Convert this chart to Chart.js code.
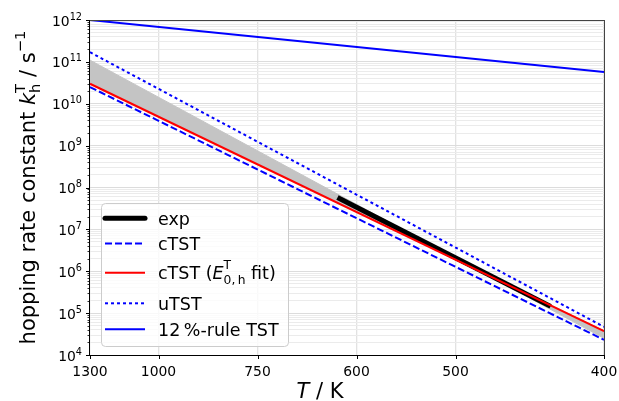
<!DOCTYPE html>
<html><head><meta charset="utf-8">
<script src="https://cdn.jsdelivr.net/npm/chart.js@4.4.0/dist/chart.umd.min.js"></script>
<style>html,body{margin:0;padding:0;background:#fff}canvas{display:block}</style>
</head><body>
<canvas id="c" width="619" height="401"></canvas>
<script>
// ---- data (T in K, rate constants in s^-1) ----
const lineTemps   = [1300, 400];
const rule12TST   = [1.0e12, 5.7e10];
const uTST        = [1.7e11, 4.7e4];
const cTSTfit     = [3.0e10, 3.7e4];
const cTST        = [2.5e10, 2.3e4];
const fanSteep    = [1.1e11, 2.5e4];
const fanShallow  = [3.1e10, 3.8e4];
const expTemps    = [624, 431];
const expRates    = [5.8e7, 1.45e5];
const xTickTemps  = [1300, 1000, 750, 600, 500, 400];
const yDecades    = [4, 5, 6, 7, 8, 9, 10, 11, 12];
const legendLabels = ['exp', 'cTST', 'cTST (E fit)', 'uTST', '12\u2009%-rule TST'];

const FONT = "'DejaVu Sans', sans-serif";
const pts = (temps, vals) => temps.map((t, i) => ({x: 1000 / t, y: vals[i]}));
const isMajor = v => Math.abs(Math.log10(v) - Math.round(Math.log10(v))) < 1e-9;

function drawRich(ctx, parts, x, y) {
  let cx = x;
  for (const p of parts) {
    if (p.stack) {
      ctx.font = `${p.size}px ${FONT}`;
      const w1 = ctx.measureText(p.sup).width, w2 = ctx.measureText(p.sub).width;
      ctx.fillText(p.sup, cx, y + p.supDy);
      ctx.fillText(p.sub, cx, y + p.subDy);
      cx += Math.max(w1, w2);
    } else {
      ctx.font = `${p.style === 'i' ? 'italic ' : ''}${p.size}px ${FONT}`;
      ctx.fillText(p.t, cx, y + (p.dy || 0));
      cx += ctx.measureText(p.t).width;
    }
  }
  return cx - x;
}
function measureRich(ctx, parts) {
  let w = 0;
  for (const p of parts) {
    if (p.stack) {
      ctx.font = `${p.size}px ${FONT}`;
      w += Math.max(ctx.measureText(p.sup).width, ctx.measureText(p.sub).width);
    } else {
      ctx.font = `${p.style === 'i' ? 'italic ' : ''}${p.size}px ${FONT}`;
      w += ctx.measureText(p.t).width;
    }
  }
  return w;
}

const decor = {
  id: 'decor',
  afterDraw(chart) {
    const ctx = chart.ctx, a = chart.chartArea;
    const xs = chart.scales.x, ys = chart.scales.y;
    ctx.save();
    // spines
    ctx.lineWidth = 1;
    ctx.strokeStyle = '#000';
    ctx.beginPath();
    ctx.moveTo(Math.round(a.left) - 0.5, a.top); ctx.lineTo(Math.round(a.left) - 0.5, a.bottom);
    ctx.moveTo(a.left, Math.round(a.bottom) + 0.5); ctx.lineTo(a.right, Math.round(a.bottom) + 0.5);
    ctx.stroke();
    ctx.strokeStyle = '#444';
    ctx.beginPath();
    ctx.moveTo(a.left, Math.round(a.top) + 0.5); ctx.lineTo(a.right, Math.round(a.top) + 0.5);
    ctx.moveTo(Math.round(a.right) + 0.5, a.top); ctx.lineTo(Math.round(a.right) + 0.5, a.bottom);
    ctx.stroke();
    // y tick marks
    ctx.strokeStyle = '#000';
    for (const t of ys.ticks) {
      const y = Math.round(ys.getPixelForValue(t.value)) + 0.5;
      const major = isMajor(t.value);
      ctx.lineWidth = major ? 1 : 0.8;
      ctx.beginPath();
      ctx.moveTo(a.left - (major ? 4 : 2.5), y); ctx.lineTo(a.left, y);
      ctx.stroke();
    }
    // x tick marks
    ctx.lineWidth = 1;
    for (const T of xTickTemps) {
      const x = Math.round(xs.getPixelForValue(1000 / T)) + 0.5;
      ctx.beginPath();
      ctx.moveTo(x, a.bottom); ctx.lineTo(x, a.bottom + 4);
      ctx.stroke();
    }
    // y tick labels 10^n
    ctx.fillStyle = '#000';
    ctx.textBaseline = 'alphabetic';
    ctx.textAlign = 'left';
    for (const n of yDecades) {
      const y = ys.getPixelForValue(Math.pow(10, n));
      ctx.font = `9.7px ${FONT}`;
      const es = String(n);
      const ew = ctx.measureText(es).width;
      ctx.font = `13.9px ${FONT}`;
      const tw = ctx.measureText('10').width;
      const right = a.left - 8;
      ctx.fillText('10', right - ew - tw, y + 5.5);
      ctx.font = `9.7px ${FONT}`;
      ctx.fillText(es, right - ew, y - 0.5);
    }
    // y axis title
    const yParts = [
      {t: 'hopping rate constant ', size: 21},
      {t: 'k', style: 'i', size: 21},
      {stack: true, sup: 'T', sub: 'h', size: 14.7, supDy: -10, subDy: 5},
      {t: ' / s', size: 21},
      {t: '\u22121', size: 14.7, dy: -10}
    ];
    ctx.save();
    ctx.translate(35, (a.top + a.bottom) / 2);
    ctx.rotate(-Math.PI / 2);
    const yw = measureRich(ctx, yParts);
    drawRich(ctx, yParts, -yw / 2, 0);
    ctx.restore();
    // x axis title
    const xParts = [{t: 'T', style: 'i', size: 21}, {t: ' / K', size: 21}];
    const xw = measureRich(ctx, xParts);
    drawRich(ctx, xParts, 320 - xw / 2, 398);
    // legend
    const lx = 101, ly = 203, lw = 187, lh = 143;
    ctx.beginPath();
    ctx.roundRect(lx + 0.5, ly + 0.5, lw, lh, 4);
    ctx.fillStyle = 'rgba(255,255,255,0.8)';
    ctx.fill();
    ctx.strokeStyle = '#cccccc';
    ctx.lineWidth = 1;
    ctx.stroke();
    const rows = [218.3, 243.5, 272.7, 303.3, 329.3];
    const handles = [
      {c: '#000000', w: 5, d: []},
      {c: '#0000ff', w: 2, d: [7, 3]},
      {c: '#ff0000', w: 2, d: []},
      {c: '#0000ff', w: 2, d: [3, 3]},
      {c: '#0000ff', w: 2, d: []}
    ];
    rows.forEach((ry, i) => {
      const h = handles[i];
      ctx.strokeStyle = h.c; ctx.lineWidth = h.w; ctx.setLineDash(h.d);
      ctx.lineCap = i === 0 ? 'round' : 'butt';
      ctx.beginPath(); ctx.moveTo(105, ry); ctx.lineTo(145, ry); ctx.stroke();
      ctx.setLineDash([]);
      ctx.fillStyle = '#000';
      const base = ry + 6.4;
      if (i === 2) {
        drawRich(ctx, [
          {t: 'cTST (', size: 17.5},
          {t: 'E', style: 'i', size: 17.5},
          {stack: true, sup: 'T', sub: '0,\u2009h', size: 12.3, supDy: -10, subDy: 4.5},
          {t: ' fit)', size: 17.5}
        ], 158, base);
      } else {
        ctx.font = `17.5px ${FONT}`;
        ctx.fillText(legendLabels[i], 158, base);
      }
    });
    ctx.restore();
  }
};

const lineDs = (label, data, color, width, dash, order) => ({
  label, data, borderColor: color, borderWidth: width, borderDash: dash,
  pointRadius: 0, tension: 0, fill: false, order
});

new Chart(document.getElementById('c'), {
  type: 'line',
  data: {
    datasets: [
      lineDs(legendLabels[4], pts(lineTemps, rule12TST), '#0000ff', 2, [], 1),
      lineDs(legendLabels[3], pts(lineTemps, uTST), '#0000ff', 2, [3, 3], 2),
      lineDs(legendLabels[2], pts(lineTemps, cTSTfit), '#ff0000', 2, [], 3),
      lineDs(legendLabels[1], pts(lineTemps, cTST), '#0000ff', 2, [7, 3], 4),
      lineDs(legendLabels[0], pts(expTemps, expRates), '#000000', 5, [], 5),
      lineDs('fan upper', pts(lineTemps, fanSteep), '#c4c4c4', 1, [], 6),
      Object.assign(lineDs('fan lower', pts(lineTemps, fanShallow), '#c4c4c4', 1, [], 7),
        {fill: '-1', backgroundColor: '#c4c4c4'})
    ]
  },
  options: {
    responsive: false,
    animation: false,
    layout: {padding: {top: 20, right: 15, left: 0, bottom: 0}},
    plugins: {legend: {display: false}, tooltip: {enabled: false}},
    scales: {
      x: {
        type: 'linear',
        min: 1000 / 1300, max: 1000 / 400,
        afterBuildTicks: s => { s.ticks = xTickTemps.map(t => ({value: 1000 / t})); },
        afterFit: s => { s.height = 46; s.paddingLeft = 0; s.paddingRight = 0; },
        ticks: {
          autoSkip: false, maxRotation: 0, padding: 9, color: '#000',
          font: {family: FONT, size: 13.9},
          callback: v => String(Math.round(1000 / v))
        },
        grid: {color: '#e2e2e2', lineWidth: 1.3, drawTicks: false},
        border: {display: false}
      },
      y: {
        type: 'logarithmic',
        min: 1e4, max: 1e12,
        afterBuildTicks: s => {
          const t = [];
          for (let n = 4; n < 12; n++) for (let m = 1; m < 10; m++) t.push({value: m * Math.pow(10, n)});
          t.push({value: 1e12});
          s.ticks = t;
        },
        afterFit: s => { s.width = 90; s.paddingTop = 0; s.paddingBottom = 0; },
        ticks: {display: false, autoSkip: false},
        grid: {
          color: c => (c.tick && isMajor(c.tick.value)) ? '#dcdcdc' : '#ebebeb',
          lineWidth: 1, drawTicks: false
        },
        border: {display: false}
      }
    }
  },
  plugins: [decor]
});
</script>
</body></html>
